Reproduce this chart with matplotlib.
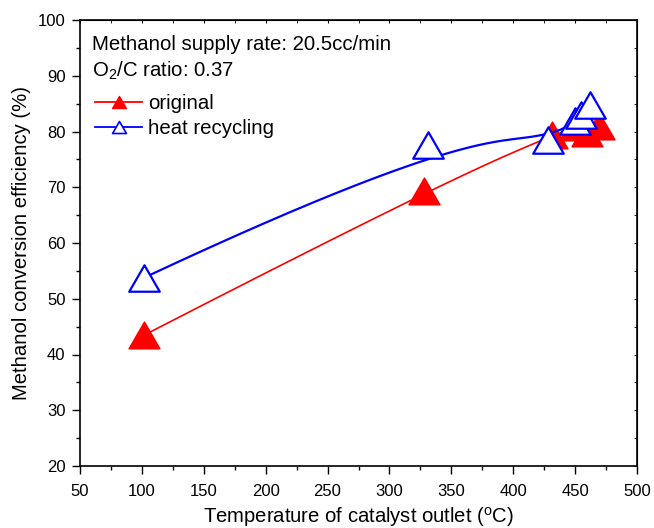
import numpy as np
import matplotlib
matplotlib.use("Agg")
import matplotlib.pyplot as plt
from matplotlib.ticker import MultipleLocator
from matplotlib.path import Path

plt.rcParams['font.family'] = ['Liberation Sans', 'DejaVu Sans']
plt.rcParams['mathtext.fontset'] = 'custom'
plt.rcParams['mathtext.rm'] = 'Liberation Sans'
plt.rcParams['mathtext.it'] = 'Liberation Sans'
plt.rcParams['mathtext.default'] = 'regular'

# data
orig_x = [102, 328, 431, 450, 460, 469]
orig_y = [43.5, 69.3, 79.3, 80.8, 79.8, 81.0]
heat_x = [102, 331, 428, 450, 455, 462]
heat_y = [53.8, 77.6, 78.5, 81.8, 83.0, 84.8]

x_ticks = [50, 100, 150, 200, 250, 300, 350, 400, 450, 500]
y_ticks = [20, 30, 40, 50, 60, 70, 80, 90, 100]


def bspline(px, py, n=300, k=3):
    """Clamped B-spline using data points as control points."""
    P = np.column_stack([px, py]).astype(float)
    m = len(P)
    k = min(k, m - 1)
    inner = np.linspace(0, 1, m - k + 1)[1:-1]
    t = np.concatenate([np.zeros(k + 1), inner, np.ones(k + 1)])
    us = np.linspace(0, 1, n)
    out = []
    for u in us:
        if u >= 1.0:
            out.append(P[-1]); continue
        s = np.searchsorted(t, u, side='right') - 1
        d = [P[j + s - k].copy() for j in range(k + 1)]
        for r in range(1, k + 1):
            for j in range(k, r - 1, -1):
                i = j + s - k
                a = (u - t[i]) / (t[i + k + 1 - r] - t[i])
                d[j] = (1 - a) * d[j - 1] + a * d[j]
        out.append(d[k])
    out = np.array(out)
    return out[:, 0], out[:, 1]


fig = plt.figure(figsize=(6.54, 5.28), dpi=100)
ax = fig.add_axes([80 / 654, 1 - 466 / 528, (637 - 80) / 654, (466 - 20) / 528])

tri = Path([(0, 0.866), (-1, -0.866), (1, -0.866), (0, 0.866)],
           [Path.MOVETO, Path.LINETO, Path.LINETO, Path.CLOSEPOLY])

ox, oy = bspline(orig_x, orig_y)
hx, hy = bspline(heat_x, heat_y)

ax.plot(ox, oy, color='#ff0000', lw=1.2, zorder=2)
ax.plot(orig_x, orig_y, ls='none', marker=tri, ms=22, mfc='#ff0000', mec='#ff0000',
        mew=1.2, zorder=3)
ax.plot(hx, hy, color='#0000ff', lw=1.6, zorder=4)
ax.plot(heat_x, heat_y, ls='none', marker=tri, ms=22, mfc='white', mec='#0000ff',
        mew=1.6, zorder=5)

# legend handles
h1, = ax.plot([], [], color='#ff0000', lw=1.3, marker=tri, ms=10, mfc='#ff0000', mec='#ff0000')
h2, = ax.plot([], [], color='#0000ff', lw=1.3, marker=tri, ms=10, mfc='white', mec='#0000ff',
              mew=1.2)
leg = ax.legend([h1, h2], ['original', 'heat recycling'], loc='center left',
                bbox_to_anchor=(0.027, 0.785), frameon=False, fontsize=14.7,
                handlelength=2.3, handletextpad=0.3, labelspacing=0.3,
                borderaxespad=0, borderpad=0)

ax.text(0.021, 0.9327, 'Methanol supply rate: 20.5cc/min', transform=ax.transAxes,
        fontsize=14.7, va='baseline', ha='left')
ax.text(0.021, 0.873, 'O$_2$/C ratio: 0.37', transform=ax.transAxes,
        fontsize=14.7, va='baseline', ha='left')

ax.set_xlim(50, 500)
ax.set_ylim(20, 100)
ax.set_xticks(x_ticks)
ax.set_yticks(y_ticks)
ax.xaxis.set_minor_locator(MultipleLocator(25))
ax.yaxis.set_minor_locator(MultipleLocator(5))
ax.tick_params(which='major', direction='out', length=6, width=1.0, labelsize=12,
               top=False, right=False)
ax.tick_params(axis='x', which='major', pad=7)
ax.tick_params(axis='y', which='major', pad=4.5)
ax.tick_params(which='minor', direction='out', length=3, width=1.0, top=False, right=False)
for sp in ax.spines.values():
    sp.set_linewidth(1.2)

# small inward ticks on top/right
axt = ax.secondary_xaxis('top')
axt.set_xticks(x_ticks)
axt.xaxis.set_minor_locator(MultipleLocator(25))
axt.tick_params(which='both', direction='in', length=2, labeltop=False)
axr = ax.secondary_yaxis('right')
axr.set_yticks(y_ticks)
axr.yaxis.set_minor_locator(MultipleLocator(5))
axr.tick_params(which='both', direction='in', length=2, labelright=False)

ax.set_xlabel('Temperature of catalyst outlet ($^{o}$C)', fontsize=14.6, labelpad=4)
ax.set_ylabel('Methanol conversion efficiency (%)', fontsize=14.6, labelpad=5)

fig.savefig('out.png', dpi=100)
